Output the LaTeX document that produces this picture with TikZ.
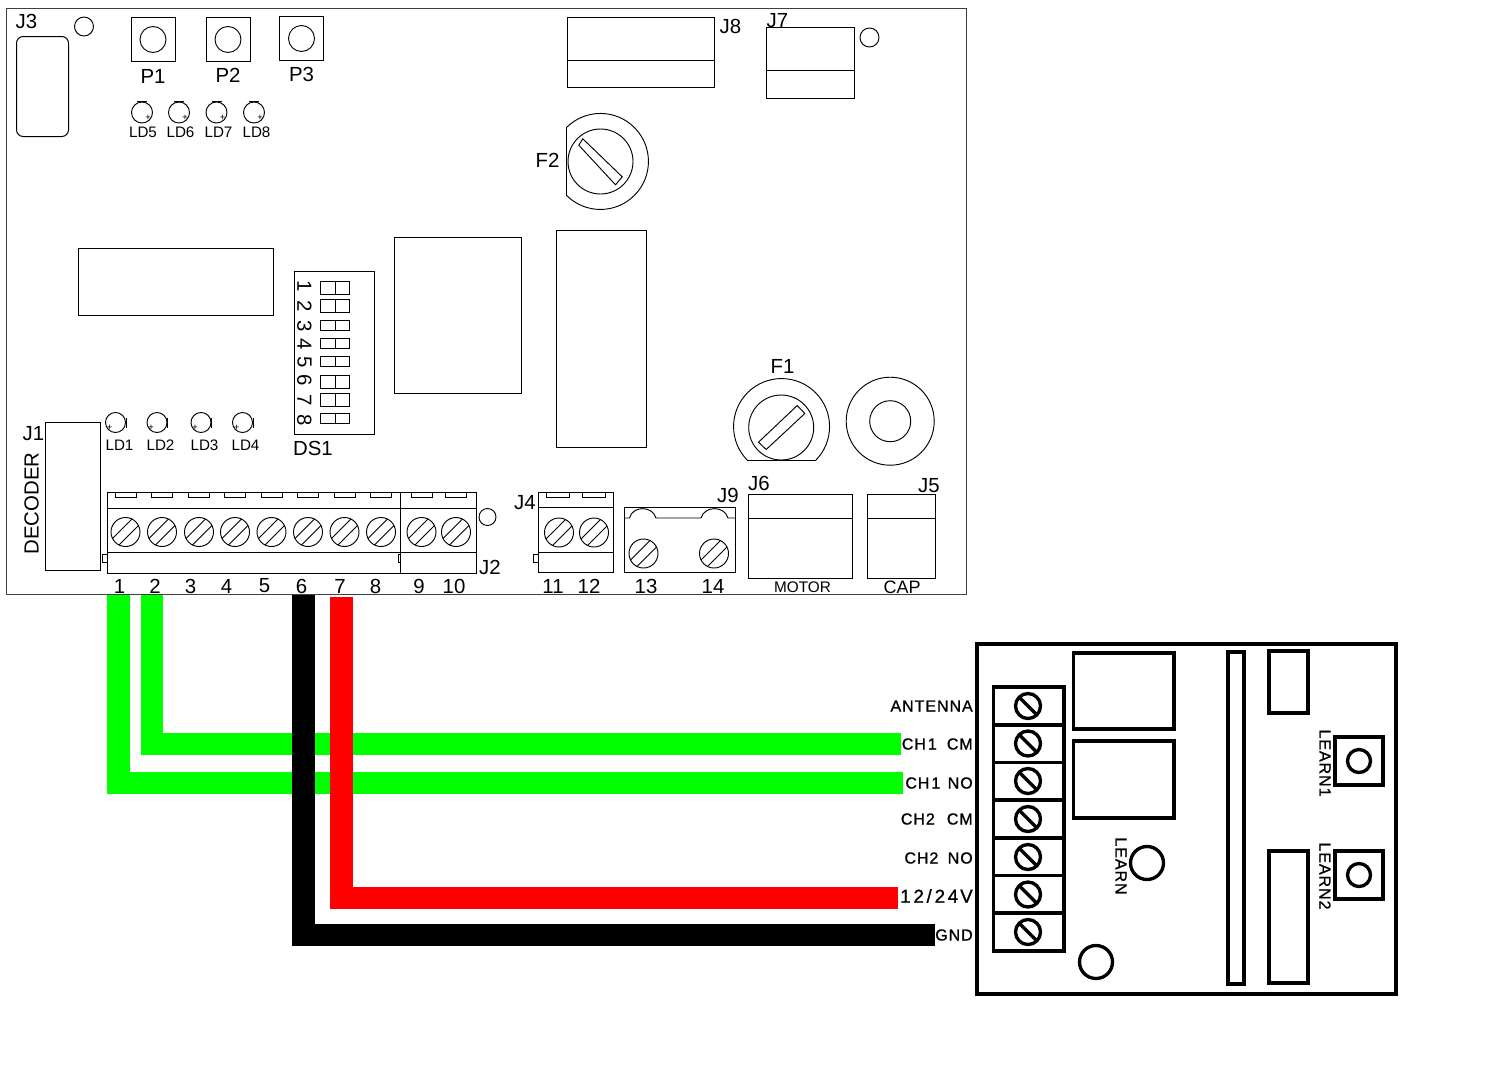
\documentclass[tikz,border=0pt]{standalone}
\usepackage{fontspec}
\setmainfont{Liberation Sans}
\newfontfamily\modfont[LetterSpace=6,FakeBold=1]{Liberation Sans}
\tikzset{
    lab/.style={inner sep=0pt,font=\fontsize{15.3}{16}\selectfont},
    tiny lab/.style={inner sep=0pt,font=\fontsize{11.4}{12}\selectfont},
    mod lab/.style={inner sep=0pt,font=\fontsize{12}{13}\modfont},
    part/.style={draw=black,line width=0.75pt},
    thin part/.style={draw=black,line width=0.7pt},
    mod part/.style={draw=black,line width=2.5pt},
    wire/.style={line width=17pt}
}
\begin{document}
\begin{tikzpicture}[x=0.75pt,y=-0.75pt]
    \useasboundingbox (0,0) rectangle (1502,1072);

    % wires
    \coordinate (w1a) at (118.5,595);
    \coordinate (w1b) at (903,783);
    \coordinate (w2a) at (152,595);
    \coordinate (w2b) at (901,744);
    \coordinate (w6a) at (303.5,595);
    \coordinate (w6b) at (935,935);
    \coordinate (w7a) at (341.5,597);
    \coordinate (w7b) at (898,898);
    \draw[wire,green,line join=miter] (w1a) |- (w1b);
    \draw[wire,green,line join=miter] (w2a) |- (w2b);
    \draw[wire,black,line join=miter] (w6a) |- (w6b);
    \draw[wire,red,line join=miter] (w7a) |- (w7b);

    % main board
    \begin{scope}[shift={(-0.5,-0.5)}]
    \draw[part,draw=black!75] (7,9) rectangle (967,595);
    \draw[part,rounded corners=5pt] (17,37) rectangle (69,137);
    \draw[thin part] (84.5,27) circle (9.5);
    \node[lab] (j3) at (27,22) {J3};
    \foreach \bx/\by/\bn/\ty in {153.5/40/1/77,228.5/40/2/76,302/39/3/75}{
        \draw[part] (\bx-22,\by-22) rectangle (\bx+22,\by+22);
        \draw[thin part] (\bx,\by) circle (13);
        \node[lab] (p\bn) at (\bx,\ty) {P\bn};
    }
    \foreach \lx/\ln in {142.5/5,179.5/6,217/7,254.5/8}{
        \draw[thin part] (\lx,113) circle (10.5);
        \draw[part] (\lx-5,102) -- (\lx+5,102);
        \node[inner sep=0pt,font=\fontsize{7}{7}\selectfont] (plus\ln) at (\lx+6,118) {+};
        \node[tiny lab] (ld\ln) at (\lx+1+\ln/2-2.5,133) {LD\ln};
    }
    \foreach \lx/\tx/\ln in {116/120/1,157.5/161/2,201.5/205/3,243/246/4}{
        \draw[thin part] (\lx,423) circle (10);
        \draw[part] (\lx+10.5,418) -- (\lx+10.5,428);
        \node[inner sep=0pt,font=\fontsize{7}{7}\selectfont] (plus\ln) at (\lx-6,428) {+};
        \node[tiny lab] (ld\ln) at (\tx,446) {LD\ln};
    }

    % blocks
    \draw[part] (79,249) rectangle (274,316);
    \draw[part] (395,238) rectangle (522,394);
    \draw[part] (557,231) rectangle (647,448);
    \draw[part] (568,18) rectangle (715,88);
    \draw[part] (568,61) -- (715,61);
    \node[lab] (j8) at (731,27) {J8};
    \draw[part] (767,28) rectangle (855,99);
    \draw[part] (767,71) -- (855,71);
    \node[lab] (j7) at (778,21) {J7};
    \draw[thin part] (870,38) circle (9.5);

    % dip switch
    \draw[part] (295,272) rectangle (375,435);
    \foreach \dn/\dtop/\dbot/\dy in {1/282/295/287,2/300/313/307,3/321/331/327,4/339/349/345,5/357/367/363,6/376/389/381,7/394/407/401,8/414/424/421}{
        \draw[thin part] (320.5,\dtop) rectangle (349.5,\dbot);
        \draw[thin part] (336,\dtop) -- (336,\dbot);
        \node[lab,rotate=-90] (ds\dn) at (305,\dy) {\dn};
    }
    \node[lab] (ds1) at (313.5,449) {DS1};

    % fuses
    \draw[thin part] (567,128) arc (-135:135:48) -- cycle;
    \draw[thin part] (601,162) circle (32.5);
    \draw[thin part] (583.3,139.3) -- (622.7,177.3) -- (616,185.3) -- (579.3,145.7) -- cycle;
    \node[lab] (f2) at (548,161) {F2};
    \draw[thin part] (816,461) arc (45:-225:48) -- cycle;
    \draw[thin part] (781.7,428) circle (32.5);
    \draw[thin part] (797.7,406) -- (805.3,414) -- (766.7,450) -- (759,442.7) -- cycle;
    \node[lab] (f1) at (783,367) {F1};
    \draw[thin part] (890.7,421.7) circle (44);
    \draw[thin part] (890.7,421.7) circle (20.5);

    % decoder socket
    \draw[part] (46,423) rectangle (100.5,570.5);
    \node[lab] (j1) at (34,434) {J1};
    \node[lab,rotate=90] (decoder) at (32,504) {DECODER};

    % terminal blocks
    \draw[part] (108,492.5) rectangle (476.5,573.5);
    \draw[part] (108,508.5) -- (476.5,508.5);
    \draw[part] (108,552.5) -- (476.5,552.5);
    \draw[black,line width=1.3pt] (401,492.5) -- (401,573.5);
    \foreach \sx in {126,162.5,199.5,235.5,272,308.5,345,381.5,422,456.5}{
        \draw[thin part] (\sx-10.5,492.5) rectangle (\sx+10.5,498);
    }
    \draw[thin part] (538.5,492.5) rectangle (613.5,573);
    \draw[thin part] (538.5,508) -- (613.5,508);
    \draw[thin part] (538.5,552.5) -- (613.5,552.5);
    \foreach \sx in {558,594}{
        \draw[thin part] (\sx-11.5,492.5) rectangle (\sx+11.5,498);
    }
    \draw[thin part] (103,555) rectangle (108,562.5);
    \draw[thin part] (398.5,555) rectangle (401,562.5);
    \draw[thin part] (533.5,555) rectangle (538.5,562.5);
    \foreach \sx/\sy in {126/532.5,162.5/532.5,199.5/532.5,235.5/532.5,272/532.5,308.5/532.5,345/532.5,381.5/532.5,422/532.5,456.5/532.5,559.5/533,594.5/533,644/554,714.5/554}{
        \draw[thin part] (\sx,\sy) circle (14.5);
        \draw[thin part] (\sx-6.5,\sy+13) -- (\sx+13,\sy-6.5);
        \draw[thin part] (\sx-13,\sy+6.5) -- (\sx+6.5,\sy-13);
    }
    \draw[thin part] (488,517.5) circle (8.5);
    \foreach \tx/\tn in {120/1,155.5/2,191/3,227/4,265/5,302/6,340.5/7,376/8,419.5/9,454.5/10,553.5/11,589.5/12,646.5/13,713.5/14}{
        \node[lab] (term\tn) at (\tx,586.5) {\tn};
    }
    \node[lab] (j2) at (490.5,567.5) {J2};
    \node[lab] (j4) at (525.5,503.5) {J4};
    \draw[thin part] (624.5,507.5) rectangle (735.5,573);
    \draw[thin part] (624.5,518.5) -- (630,518.5) .. controls (633,506) and (653,506) .. (656.5,518.5) -- (701.5,518.5) .. controls (705,506) and (725,506) .. (728.5,518.5) -- (735.5,518.5);
    \node[lab] (j9) at (728.5,495.5) {J9};
    \draw[part] (748.5,495) rectangle (852.5,578.5);
    \draw[part] (748.5,518.5) -- (852.5,518.5);
    \node[lab] (j6) at (759.5,483.5) {J6};
    \node[lab,font=\fontsize{11.5}{12}\selectfont] (motor) at (803,587.5) {MOTOR};
    \draw[part] (868,495) rectangle (935.5,578.5);
    \draw[part] (868,518.5) -- (935.5,518.5);
    \node[lab] (j5) at (929.5,486.5) {J5};
    \node[lab,font=\fontsize{13.5}{14}\selectfont] (cap) at (902.5,587.5) {CAP};
    \end{scope}

    % receiver module
    \draw[mod part] (977,644) rectangle (1396,994);
    \draw[mod part] (1073.5,653) rectangle (1174,729);
    \draw[mod part] (1073.5,741) rectangle (1174,818);
    \draw[mod part] (1228,652) rectangle (1244,984);
    \draw[mod part] (1269,651) rectangle (1308,713);
    \draw[mod part] (1269,851) rectangle (1308,983);
    \draw[mod part] (993.5,687) rectangle (1064,951);
    \foreach \sy in {725,762.5,800,838,875.5,913}{
        \draw[mod part] (993.5,\sy) -- (1064,\sy);
    }
    \foreach \sy in {706,743.5,781,819,857,894.5,932}{
        \draw[mod part] (1028,\sy) circle (12.5);
        \draw[mod part] (1019,\sy-9) -- (1037,\sy+9);
    }
    \draw[mod part] (1147,863) circle (16.5);
    \draw[mod part] (1096,962) circle (16.5);
    \foreach \bx/\by in {1359/761,1359/875}{
        \draw[mod part] (\bx-24,\by-24) rectangle (\bx+24,\by+24);
        \draw[mod part] (\bx,\by) circle (11.5);
    }
    \node[mod lab,rotate=-90] (learn) at (1121,866) {LEARN};
    \node[mod lab,rotate=-90] (learna) at (1325,763) {LEARN1};
    \node[mod lab,rotate=-90] (learnb) at (1325,876) {LEARN2};
    \foreach \ly/\lname/\ltext in {706/ant/ANTENNA,744/cmone/{CH\kern1.5pt 1\kern3.5pt\ CM},783/noone/{CH\kern1.5pt 1\kern1.5pt\ NO},819/cmtwo/{CH2\kern5pt\ CM},858/notwo/{CH2\kern3pt\ NO},896/pow/{\fontsize{14}{15}\modfont 1\kern2.2pt 2\kern2pt/\kern2.2pt 2\kern2pt 4\kern1.6pt V},935/gnd/GND}{
        \node[mod lab,anchor=east] (\lname) at (973,\ly) {\ltext};
    }
\end{tikzpicture}
\end{document}
